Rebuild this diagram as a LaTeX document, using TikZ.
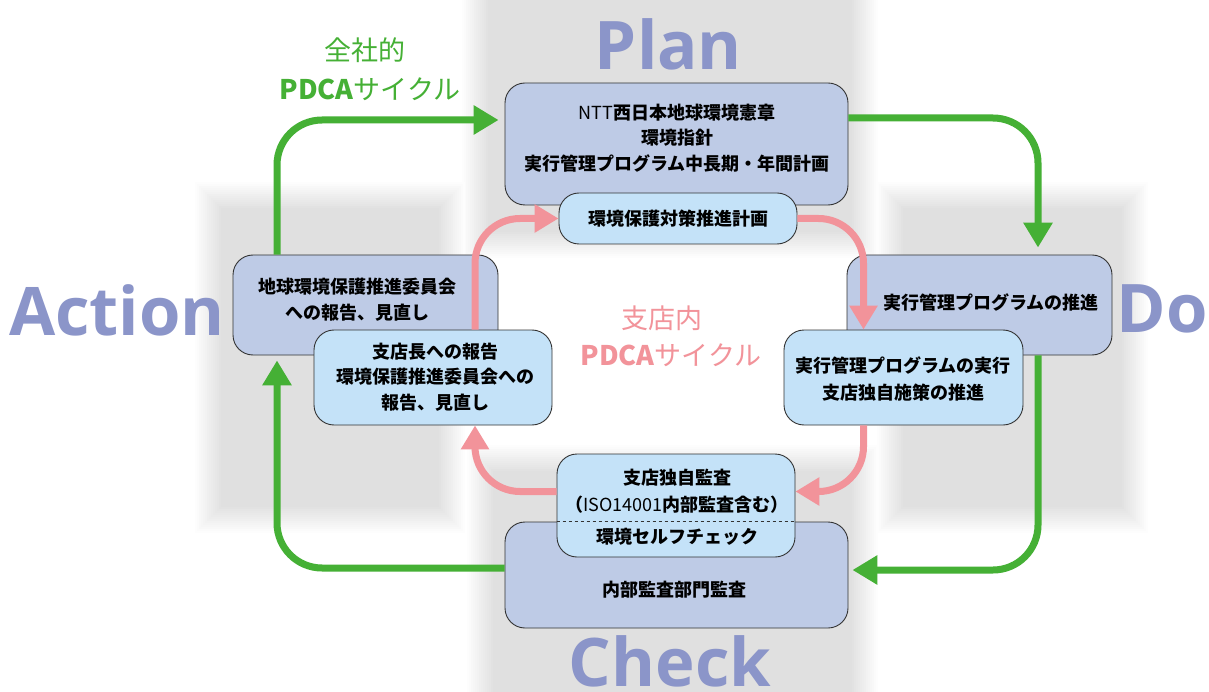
\documentclass[tikz,border=0pt]{standalone}
\usepackage{fontspec}
\setmainfont{Noto Sans CJK JP}
\newfontfamily\latfont{Open Sans}
\usetikzlibrary{arrows.meta,calc}
\definecolor{bgg}{HTML}{E0E0E0}
\definecolor{boxb}{HTML}{BECBE6}
\definecolor{boxl}{HTML}{C4E2F8}
\definecolor{grn}{HTML}{45B035}
\definecolor{pnk}{HTML}{F2939A}
\definecolor{lbl}{HTML}{8B95C9}
\definecolor{edgec}{HTML}{333333}
\newcommand\blurrect[4]{%
  \foreach \k in {0,...,13}{\pgfmathtruncatemacro\pp{(\k+1)*100/14}%
    \fill[bgg!\pp!white] ({#1+2*\k},{#2+2*\k}) rectangle ({#3-2*\k},{#4-2*\k});}}
\begin{document}
\begin{tikzpicture}[x=1pt,y=-1pt,
  boxbase/.style={draw=edgec,line width=0.9pt,rounded corners=20pt,inner sep=0pt,align=center},
  mainbox/.style={boxbase,fill=boxb},
  subbox/.style={boxbase,fill=boxl},
  btxt/.style={align=center,inner sep=0pt,font=\bfseries\fontsize{18}{25.5}\selectfont},
  garrow/.style={draw=grn,line width=7pt,rounded corners=45pt,-{Triangle[length=25pt,width=28pt]}},
  parrow/.style={draw=pnk,line width=7pt,rounded corners=45pt,-{Triangle[length=24pt,width=27pt]}},
  biglbl/.style={text=lbl,anchor=base,inner sep=0pt,text depth=0pt,font=\latfont\bfseries\fontsize{67}{67}\selectfont}]
\clip (0,0) rectangle (1209,692);
\fill[white] (0,0) rectangle (1209,692);
% gray backgrounds
\blurrect{462}{-40}{878}{258}
\blurrect{195}{182}{465}{533}
\blurrect{877}{182}{1148}{533}
\blurrect{467}{445}{878}{740}
% big labels
\node[biglbl] (lplan) at (668.5,70) {Plan};
\node[biglbl] (lact) at (117,335) {Action};
\node[biglbl] (ldo) at (1162,333) {Do};
\node[biglbl] (lcheck) at (670,686) {Check};
% cycle labels
\node[text=grn,inner sep=0pt,font=\fontsize{27}{30}\selectfont] (gl1) at (365,50) {全社的};
\node[text=grn,anchor=base,inner sep=0pt,font=\fontsize{27}{30}\selectfont] (gl2) at (370,100) {{\bfseries PDCA}サイクル};
\node[text=pnk,inner sep=0pt,font=\fontsize{27}{30}\selectfont] (pl1) at (662,318) {支店内};
\node[text=pnk,anchor=base,inner sep=0pt,font=\fontsize{27}{30}\selectfont] (pl2) at (671,365) {{\bfseries PDCA}サイクル};
% main boxes
\node[mainbox,minimum width=343pt,minimum height=122pt] (plan) at (676.5,144) {};
\node[mainbox,minimum width=265pt,minimum height=100pt] (act) at (365.5,305) {};
\node[mainbox,minimum width=265pt,minimum height=100pt] (do) at (979.5,305) {};
\node[mainbox,minimum width=343pt,minimum height=106pt] (check) at (676.5,575) {};
% green arrows
\draw[garrow,shorten >=6pt] ($(act.north)+(-88.5,0)$) |- ($(plan.west)+(0,-24)$);
\draw[garrow,shorten >=7pt] ($(plan.east)+(0,-26)$) -| ($(do.north)+(58.5,0)$);
\draw[garrow,shorten >=4pt] ($(do.south)+(58.5,0)$) |- ($(check.east)+(0,-5)$);
\draw[garrow,shorten >=5pt] ($(check.west)+(0,-7)$) -| ($(act.south)+(-88.5,0)$);
% main box texts
\node[btxt] (plant) at (677,138) {{\mdseries NTT}西日本地球環境憲章\\環境指針\\実行管理プログラム中長期・年間計画};
\node[btxt] (actt) at (357,299.5) {地球環境保護推進委員会\\への報告、見直し};
\node[btxt] (dot) at (991,302) {実行管理プログラムの推進};
\node[btxt] (checkt) at (674,590) {内部監査部門監査};
% sub boxes
\node[subbox,minimum width=238pt,minimum height=51pt] (plansub) at (678,218.5) {};
\node[subbox,minimum width=238pt,minimum height=95pt] (actsub) at (433,377.5) {};
\node[subbox,minimum width=239pt,minimum height=95pt] (dosub) at (903.5,377.5) {};
\node[subbox,minimum width=238pt,minimum height=103pt] (checksub) at (676,505.5) {};
% pink arrows
\draw[parrow] ($(actsub.north)+(42,0)$) |- (plansub.west);
\draw[parrow] (plansub.east) -| ($(dosub.north)+(-40,0)$);
\draw[parrow] ($(dosub.south)+(-40,0)$) |- ($(checksub.east)+(0,-14)$);
\draw[parrow] ($(checksub.west)+(0,-14)$) -| ($(actsub.south)+(42,0)$);
% sub box texts
\node[btxt] (plansubt) at (678,218.5) {環境保護対策推進計画};
\node[btxt] (actsubt) at (435,377) {支店長への報告\\環境保護推進委員会への\\報告、見直し};
\node[btxt,font=\bfseries\fontsize{18}{27}\selectfont] (dosubt) at (903,378.5) {実行管理プログラムの実行\\支店独自施策の推進};
\node[btxt,font=\bfseries\fontsize{18}{27}\selectfont] (checksubt) at (677,491.5) {支店独自監査\\（{\mdseries ISO14001}内部監査含む）};
\draw[dashed,line width=0.9pt,draw=edgec] (checksub.west |- 0,521) -- (checksub.east |- 0,521);
\node[btxt] (checksubt2) at (677,537) {環境セルフチェック};
\end{tikzpicture}
\end{document}
